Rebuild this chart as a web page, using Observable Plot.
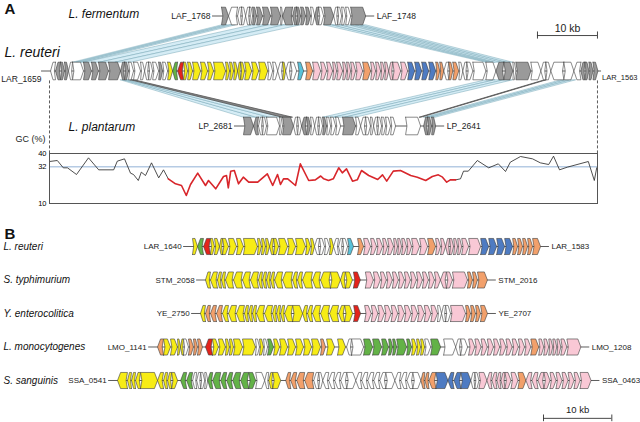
<!DOCTYPE html>
<html><head><meta charset="utf-8">
<script src="https://cdn.jsdelivr.net/npm/d3@7"></script>
<script src="https://cdn.jsdelivr.net/npm/@observablehq/plot@0.6"></script>
<style>
body{margin:0;background:#fff;}
#fig{position:relative;width:640px;height:422px;overflow:hidden;font-family:"Liberation Sans",Arial,Helvetica,sans-serif;}
#fig svg{position:absolute;left:0;}
</style></head><body><div id="fig"></div>
<script>
// ---------- DATA ----------
// gene entries: [length kb, strand (+1/-1, 0 = gap), colour class]
const palette = {k:"#9a9a9a", w:"#ffffff", y:"#f7ec16", g:"#63b247", r:"#e3231b", c:"#59c2da", p:"#f9c8d5", o:"#f2a06b", b:"#4e7bc2"};

// Panel A (kb, 0 = left end of GC window)
const speciesA = ["L. fermentum", "L. reuteri", "L. plantarum"];
const leftTagsA = ["LAF_1768", "LAR_1659", "LP_2681"];
const rightTagsA = ["LAF_1748", "LAR_1563", "LP_2641"];
const startKbA = [28.67, 0.17, 32.33];

const fermentumA = [[1.17,1,"k"],[1.5,-1,"w"],[0.67,-1,"w"],[0.67,1,"w"],[0.67,-1,"w"],[0.5,1,"w"],[0.67,1,"k"],[1.0,1,"k"],[1.33,1,"k"],[1.67,1,"k"],[0.33,1,"w"],[1.67,-1,"k"],[0.67,-1,"k"],[0.67,1,"k"],[0.83,1,"k"],[0.83,1,"k"],[0.67,1,"w"],[0.67,-1,"k"],[0.83,1,"w"],[1.67,1,"k"],[0.67,-1,"w"],[0.67,1,"w"],[0.67,1,"w"],[0.83,1,"w"],[2.5,1,"k"]];

const reuteriA = [[0.83,-1,"w"],[0.83,-1,"k"],[0.67,1,"k"],[0.67,1,"k"],[0.67,-1,"w"],[1.83,1,"w"],[1.33,1,"k"],[1.17,1,"k"],[1.67,1,"k"],[2.0,1,"k"],[0.67,-1,"k"],[0.67,1,"k"],[0.83,1,"w"],[1.17,1,"w"],[0.67,1,"w"],[0.67,-1,"w"],[0.67,1,"w"],[1.0,1,"w"],[0.67,1,"k"],[0.83,1,"w"],[0.83,1,"y"],[0.83,-1,"g"],[1.0,-1,"r"],[0.67,1,"y"],[0.83,1,"y"],[1.33,1,"y"],[1.17,1,"y"],[1.0,1,"y"],[2.0,1,"y"],[0.67,1,"y"],[0.67,1,"y"],[0.67,1,"y"],[0.5,-1,"y"],[0.67,1,"y"],[1.17,1,"y"],[1.17,1,"y"],[1.5,1,"y"],[0.83,1,"w"],[0.83,1,"w"],[0.83,-1,"w"],[0.5,1,"y"],[0.83,-1,"w"],[1.0,1,"w"],[0.17,0,null],[1.0,1,"c"],[0.33,0,null],[1.17,1,"o"],[1.33,1,"p"],[1.0,1,"p"],[1.0,1,"p"],[0.67,1,"p"],[1.0,1,"p"],[0.67,1,"p"],[0.67,1,"p"],[0.83,1,"p"],[1.17,1,"p"],[1.33,1,"o"],[0.83,1,"p"],[0.83,1,"p"],[0.67,1,"p"],[0.67,1,"p"],[0.67,-1,"p"],[1.33,1,"p"],[1.17,1,"p"],[1.17,1,"b"],[1.17,1,"b"],[1.17,1,"b"],[1.17,1,"b"],[0.67,1,"o"],[0.67,1,"o"],[0.83,-1,"w"],[0.67,1,"o"],[1.0,1,"o"],[0.67,1,"w"],[0.67,-1,"w"],[1.0,1,"w"],[2.17,1,"w"],[1.67,1,"w"],[1.33,-1,"k"],[1.5,1,"k"],[0.5,1,"w"],[2.5,1,"k"],[1.67,1,"w"],[0.83,-1,"w"],[0.83,1,"w"],[2.17,-1,"w"],[1.67,1,"w"],[1.17,-1,"w"],[0.67,-1,"k"],[0.67,1,"k"],[0.67,1,"k"],[0.83,1,"k"]];

const plantarumA = [[1.67,1,"k"],[0.83,-1,"k"],[0.67,-1,"w"],[0.67,1,"w"],[2.17,1,"w"],[0.5,1,"w"],[1.83,1,"k"],[0.67,-1,"w"],[0.67,1,"w"],[0.83,-1,"k"],[0.67,1,"k"],[0.67,1,"w"],[0.67,-1,"w"],[0.67,1,"w"],[0.67,1,"k"],[0.67,1,"w"],[0.83,1,"w"],[0.83,1,"w"],[0.33,0,null],[2.17,1,"k"],[0.83,1,"w"],[0.83,-1,"w"],[0.83,1,"w"],[0.5,1,"w"],[0.67,-1,"w"],[0.67,1,"w"],[0.67,1,"w"],[0.83,1,"w"],[0.83,1,"w"],[1.67,0,null],[2.5,1,"w"],[0.5,0,null],[0.67,-1,"k"],[0.67,1,"k"],[0.67,1,"k"]];

// homology links: [upper start, upper end, lower start, lower end] kb
const linksFermReut = [[28.7,31.0,3.8,5.7],[33.8,41.8,5.7,13.5],[45.7,49.8,72.7,74.3],[50.2,52.7,74.3,77.2]];
const linksReutPlan = [[11.8,13.5,32.3,38.8],[72.7,77.2,45.5,51.0],[85.2,87.7,62.3,64.3]];
const darkLinksReutPlan = [[13.5,14.1,38.8,40.5],[82.5,82.8,61.6,61.9]];

// GC content (%) along L. reuteri window: [kb, GC %]
const gcTicks = [10, 32, 40];
const gcGenomeMean = 32;
const gcWindowKb = [0, 91.33];
const gcLeft = [[0,35.2],[1.3,35.8],[2.3,31.4],[3.0,31.4],[4.5,27.4],[6.5,37.4],[8.2,30.2],[10.7,30.2],[11.3,35.4],[12.5,36.8],[13.5,28.2],[14.0,27.4],[14.8,23.8],[15.3,28.8],[16.0,26.8],[17.0,34.4],[18.2,25.4],[19.0,30.2],[19.8,24.8]];
const gcIsland = [[19.8,24.8],[21.0,21.8],[22.0,20.8],[22.8,14.8],[23.5,21.4],[24.7,28.2],[26.0,20.8],[26.5,23.8],[27.7,18.8],[29.0,26.2],[29.5,26.8],[29.8,19.4],[30.2,29.4],[30.8,29.8],[31.5,21.8],[32.3,25.8],[33.2,22.8],[34.7,22.8],[36.3,27.8],[37.2,20.8],[38.0,27.4],[38.5,21.4],[39.0,24.8],[39.7,24.8],[41.0,20.8],[41.8,33.8],[43.2,23.8],[44.3,24.2],[45.2,26.5],[45.7,24.8],[46.5,23.8],[47.3,24.8],[48.2,31.4],[48.8,28.4],[49.5,30.8],[50.5,23.4],[51.3,24.2],[52.0,29.8],[53.2,26.8],[54.7,24.4],[55.5,27.2],[56.2,23.4],[57.3,29.4],[58.5,29.8],[60.2,26.8],[61.3,25.8],[62.7,23.8],[63.8,26.2],[64.8,27.2],[65.5,25.8],[66.2,22.8],[66.8,24.2],[67.7,24.2]];
const gcRight = [[67.7,24.2],[68.5,24.8],[69.0,29.4],[69.8,29.4],[71.3,35.8],[73.2,31.4],[74.8,33.8],[76.0,29.2],[76.8,34.8],[78.5,38.2],[80.5,36.8],[81.8,34.4],[83.2,33.4],[84.0,38.4],[85.0,30.2],[86.3,31.8],[89.8,35.2],[90.8,23.8],[91.2,31.4]];

// Panel B
const speciesB = ["L. reuteri", "S. typhimurium", "Y. enterocolitica", "L. monocytogenes", "S. sanguinis"];
const leftTagsB = ["LAR_1640", "STM_2058", "YE_2750", "LMO_1141", "SSA_0541"];
const rightTagsB = ["LAR_1583", "STM_2016", "YE_2707", "LMO_1208", "SSA_0463"];
const startKbB = [28.11, 30.01, 29.28, 22.99, 17.13];

const reuteriB = [[0.73,1,"y"],[0.88,-1,"g"],[1.02,-1,"r"],[0.59,1,"y"],[0.73,1,"y"],[0.44,-1,"y"],[0.88,1,"y"],[1.17,1,"y"],[1.02,1,"y"],[2.05,1,"y"],[0.59,1,"y"],[0.59,1,"y"],[0.59,1,"y"],[0.59,-1,"y"],[0.73,1,"y"],[1.32,1,"y"],[1.17,1,"y"],[1.46,1,"y"],[0.73,1,"y"],[0.59,1,"y"],[0.73,-1,"w"],[0.73,1,"w"],[0.73,1,"w"],[0.59,1,"y"],[0.73,-1,"w"],[0.59,-1,"w"],[0.73,1,"w"],[0.88,1,"c"],[0.59,0,null],[0.88,1,"o"],[1.02,1,"p"],[0.88,1,"p"],[0.88,1,"p"],[0.73,1,"p"],[0.88,1,"p"],[0.59,1,"p"],[0.59,1,"p"],[0.73,1,"p"],[0.73,1,"p"],[1.17,1,"p"],[1.17,1,"p"],[1.17,1,"o"],[0.73,1,"p"],[0.73,1,"p"],[0.59,-1,"p"],[0.59,1,"p"],[0.59,1,"p"],[0.59,1,"p"],[1.02,1,"p"],[1.76,1,"p"],[1.17,1,"b"],[1.17,1,"b"],[1.17,1,"b"],[1.17,1,"b"],[0.73,1,"o"],[0.73,1,"o"],[0.73,1,"o"],[0.73,1,"o"],[1.17,1,"o"]];

const typhimuriumB = [[0.73,-1,"y"],[1.02,-1,"y"],[0.59,-1,"y"],[0.59,-1,"y"],[1.17,-1,"y"],[1.32,-1,"y"],[1.17,-1,"y"],[1.17,-1,"y"],[0.59,-1,"y"],[0.59,-1,"y"],[0.59,-1,"y"],[0.59,-1,"y"],[1.17,-1,"y"],[1.46,-1,"y"],[0.73,-1,"y"],[0.73,-1,"y"],[1.46,-1,"y"],[1.17,-1,"y"],[1.46,-1,"y"],[1.46,1,"y"],[0.73,-1,"y"],[1.02,1,"y"],[0.15,0,null],[1.02,1,"r"],[0.73,0,null],[1.17,1,"p"],[1.02,1,"p"],[0.88,1,"p"],[0.88,1,"p"],[0.88,1,"p"],[0.88,1,"p"],[0.88,1,"p"],[0.88,1,"p"],[0.88,1,"p"],[0.88,1,"p"],[0.88,1,"p"],[0.88,1,"p"],[0.88,-1,"p"],[0.88,1,"p"],[2.2,1,"p"],[0.73,1,"o"],[0.73,1,"o"],[1.46,1,"o"]];

const enterocoliticaB = [[0.73,-1,"y"],[0.73,-1,"o"],[0.88,-1,"o"],[0.88,-1,"o"],[0.88,-1,"y"],[1.17,-1,"y"],[1.17,-1,"y"],[0.59,-1,"y"],[0.59,-1,"y"],[0.59,-1,"y"],[1.17,-1,"y"],[1.17,-1,"y"],[0.59,-1,"y"],[0.59,-1,"y"],[0.59,-1,"y"],[1.17,-1,"y"],[1.46,1,"y"],[0.73,-1,"y"],[0.73,-1,"y"],[1.17,-1,"y"],[1.32,-1,"y"],[1.32,-1,"y"],[0.88,-1,"y"],[1.17,1,"y"],[0.15,0,null],[1.02,1,"r"],[0.59,0,null],[0.97,1,"p"],[0.97,1,"p"],[0.97,1,"p"],[0.97,1,"p"],[0.97,1,"p"],[0.97,1,"p"],[0.97,1,"p"],[0.97,1,"p"],[0.97,1,"p"],[0.97,1,"p"],[0.97,1,"p"],[0.59,1,"w"],[0.59,-1,"w"],[0.73,1,"w"],[2.2,1,"p"],[0.73,1,"o"],[0.73,1,"o"],[0.73,1,"o"],[1.02,1,"o"]];

const monocytogenesB = [[0.88,-1,"o"],[1.02,1,"y"],[1.02,1,"y"],[0.44,1,"y"],[0.44,-1,"y"],[0.73,1,"w"],[0.73,1,"o"],[0.59,1,"o"],[0.73,1,"o"],[0.44,0,null],[1.02,-1,"r"],[0.88,1,"y"],[1.02,1,"y"],[0.59,1,"y"],[0.59,1,"y"],[1.32,1,"y"],[1.9,1,"y"],[0.59,1,"w"],[0.59,1,"y"],[0.59,1,"w"],[0.88,1,"g"],[0.88,1,"y"],[1.17,1,"y"],[1.17,1,"y"],[1.17,1,"y"],[1.17,1,"y"],[1.32,1,"y"],[0.73,1,"o"],[0.15,0,null],[1.17,1,"y"],[0.44,0,null],[1.17,1,"y"],[0.15,0,null],[0.73,-1,"w"],[1.76,1,"w"],[1.32,1,"g"],[1.32,1,"g"],[1.02,1,"g"],[0.59,1,"g"],[0.59,1,"g"],[1.46,1,"g"],[0.73,1,"g"],[0.73,1,"y"],[0.59,1,"y"],[0.59,1,"y"],[0.88,1,"w"],[1.46,1,"g"],[0.44,0,null],[1.76,1,"w"],[0.73,-1,"w"],[1.02,1,"w"],[0.15,0,null],[0.91,1,"p"],[0.91,1,"p"],[0.91,1,"p"],[0.91,1,"p"],[0.91,1,"p"],[0.91,1,"p"],[0.91,1,"p"],[0.91,1,"p"],[0.91,1,"p"],[0.91,1,"p"],[1.17,1,"o"],[0.73,1,"p"],[0.73,1,"p"],[0.59,1,"p"],[0.59,1,"p"],[0.59,1,"p"],[0.88,1,"p"],[2.05,1,"p"]];

const sanguinisB = [[1.46,-1,"y"],[0.59,-1,"y"],[0.59,-1,"y"],[0.73,-1,"y"],[2.49,1,"y"],[0.88,-1,"y"],[0.59,-1,"y"],[0.59,-1,"y"],[0.88,1,"y"],[0.44,0,null],[0.88,-1,"g"],[0.88,-1,"g"],[0.59,-1,"w"],[0.59,-1,"w"],[0.59,1,"w"],[0.44,1,"w"],[0.73,-1,"g"],[1.17,-1,"g"],[0.88,-1,"g"],[0.88,-1,"g"],[1.17,-1,"g"],[1.17,-1,"g"],[1.02,1,"g"],[1.32,1,"w"],[0.59,-1,"w"],[0.59,-1,"y"],[1.17,1,"y"],[0.73,0,null],[0.73,-1,"o"],[0.88,-1,"o"],[1.17,-1,"o"],[1.32,-1,"o"],[0.73,-1,"w"],[0.59,1,"w"],[0.88,-1,"w"],[0.88,-1,"w"],[0.88,-1,"w"],[0.88,-1,"w"],[1.32,1,"w"],[0.88,-1,"w"],[0.88,-1,"w"],[0.88,-1,"w"],[0.88,-1,"w"],[0.88,-1,"w"],[1.32,1,"w"],[0.88,-1,"w"],[0.88,-1,"w"],[0.88,-1,"w"],[1.17,1,"w"],[0.59,-1,"o"],[0.59,-1,"o"],[1.02,-1,"o"],[1.76,1,"b"],[0.88,-1,"b"],[1.02,-1,"b"],[1.46,1,"b"],[0.59,-1,"w"],[0.59,1,"w"],[1.17,1,"p"],[0.73,-1,"p"],[0.73,-1,"p"],[0.59,-1,"p"],[0.59,-1,"p"],[0.88,1,"p"],[1.02,1,"p"],[1.17,1,"o"],[0.88,-1,"p"],[0.88,-1,"p"],[0.88,-1,"p"],[0.88,1,"p"],[0.88,1,"p"],[0.88,1,"p"],[0.88,1,"p"],[0.88,1,"p"],[0.88,1,"p"],[1.61,1,"p"]];

const scaleBarKb = 10;
const scaleBarLabel = "10 kb";

// ---------- BUILD ----------
const FONT = '"Liberation Sans", Arial, Helvetica, sans-serif';
function layout(genes, start) {
  let pos = start;
  return genes.map(([len, strand, c]) => { const g = {s: pos, e: pos + len, strand, c}; pos += len; return g; });
}
function genePolys(list, y, h, tipMax, key) {
  const rows = [];
  list.forEach((g, i) => {
    if (!g.c) return;
    const len = g.e - g.s, t = Math.min(len * 0.5, tipMax), n = t * 0.45;
    const [a, b, dir] = g.strand > 0 ? [g.s, g.e, 1] : [g.e, g.s, -1];
    const pts = [[a, y + h], [b - dir * t, y + h], [b, y], [b - dir * t, y - h], [a, y - h], [a + dir * n, y], [a, y + h]];
    for (const [x, yy] of pts) rows.push({x, y: yy, z: key + "-" + i, fill: palette[g.c]});
  });
  return rows;
}
function linkPolys(links, yTop, yBot, key, parts) {
  const rows = [];
  links.forEach(([t1, t2, b1, b2], i) => {
    for (let k = 0; k < parts; k++) {
      const f0 = k / parts, f1 = (k + 1) / parts;
      const T1 = t1 + (t2 - t1) * f0, T2 = t1 + (t2 - t1) * f1, B1 = b1 + (b2 - b1) * f0, B2 = b1 + (b2 - b1) * f1;
      const pts = [[T1, yTop], [T2, yTop], [B2, yBot], [B1, yBot], [T1, yTop]];
      for (const [x, y] of pts) rows.push({x, y, z: key + i + "-" + k});
    }
  });
  return rows;
}

// Panel A
const rowA = [1, 0, -1];
const hA = 0.16;
const geneArraysA = [fermentumA, reuteriA, plantarumA];
const tracksA = speciesA.map((name, i) => {
  const genes = layout(geneArraysA[i], startKbA[i]);
  return {name, y: rowA[i], left: leftTagsA[i], right: rightTagsA[i], start: startKbA[i], end: genes[genes.length - 1].e, genes};
});
const geneRowsA = tracksA.flatMap((t, i) => genePolys(t.genes, t.y, hA, 0.5, "A" + i));
const linkRows = [
  ...linkPolys(linksFermReut, 1 - hA, hA, "fr", 3),
  ...linkPolys(linksReutPlan, -hA, -1 + hA, "rp", 3)
];
const darkRows = linkPolys(darkLinksReutPlan, -hA, -1 + hA, "d", 1);
const leadA = 1.5, leadReut = 0.6;
const sideTracks = tracksA.filter(t => t.y !== 0), mainTrack = tracksA.filter(t => t.y === 0);

const plotA = Plot.plot({
  width: 640, height: 153, margin: 0,
  x: {domain: [-8.167, 98.5], axis: null},
  y: {domain: [-1.5, 1.282], axis: null},
  color: {type: "identity"},
  style: {fontFamily: FONT, background: "transparent", overflow: "visible"},
  marks: [
    Plot.line(linkRows, {x: "x", y: "y", z: "z", fill: "#d5ecf5", stroke: "#6b9fae", strokeWidth: 0.45, curve: "linear"}),
    Plot.line(darkRows, {x: "x", y: "y", z: "z", fill: "#888", stroke: "#555", strokeWidth: 0.8, curve: "linear"}),
    Plot.ruleX(gcWindowKb, {y1: -hA - 0.02, y2: -1.5, stroke: "#333", strokeWidth: 0.8, strokeDasharray: "3,2"}),
    Plot.ruleY(sideTracks, {y: "y", x1: d => d.start - leadA, x2: d => d.end + leadA, stroke: "#333", strokeWidth: 0.8}),
    Plot.ruleY(mainTrack, {y: "y", x1: d => d.start - leadA, x2: d => d.end + leadReut, stroke: "#333", strokeWidth: 0.8}),
    Plot.line(geneRowsA, {x: "x", y: "y", z: "z", fill: "fill", stroke: "#3c3c3c", strokeWidth: 0.6, strokeLinejoin: "round", curve: "linear"}),
    Plot.text(sideTracks, {x: d => d.start - leadA, y: "y", text: "left", textAnchor: "end", dx: -2, fontSize: 8.5, fill: "#222"}),
    Plot.text(sideTracks, {x: d => d.end + leadA, y: "y", text: "right", textAnchor: "start", dx: 2, fontSize: 8.5, fill: "#222"}),
    Plot.text(mainTrack, {x: d => d.start - leadA, y: "y", text: "left", textAnchor: "end", dx: 0, dy: 8, fontSize: 8.5, fill: "#222"}),
    Plot.text(mainTrack, {x: d => d.end + leadReut, y: "y", text: "right", textAnchor: "start", dx: 0.5, dy: 7, fontSize: 7.5, fill: "#222"}),
    Plot.text(tracksA.filter(t => t.y === 1), {y: "y", text: "name", frameAnchor: "left", textAnchor: "start", dx: 68, dy: -2, fontSize: 12, fontStyle: "italic", fill: "#111"}),
    Plot.text(tracksA.filter(t => t.y === -1), {y: "y", text: "name", frameAnchor: "left", textAnchor: "start", dx: 68, dy: 1.5, fontSize: 12, fontStyle: "italic", fill: "#111"}),
    Plot.text(mainTrack, {y: "y", text: "name", frameAnchor: "left", textAnchor: "start", dx: 4, dy: -18.5, fontSize: 14, fontStyle: "italic", fill: "#111"}),
    Plot.text(["A"], {frameAnchor: "top-left", textAnchor: "start", lineAnchor: "middle", dx: 4, dy: 9, text: d => d, fontSize: 15, fontWeight: "bold", fill: "#111"}),
    Plot.text(["GC (%)"], {frameAnchor: "bottom-left", textAnchor: "start", dx: 15, dy: -12, text: d => d, fontSize: 9, fill: "#222"}),
    // scale bar
    Plot.ruleY([0.645], {x1: gcWindowKb[1] - scaleBarKb, x2: gcWindowKb[1], stroke: "#333", strokeWidth: 0.9}),
    Plot.ruleX([gcWindowKb[1] - scaleBarKb, gcWindowKb[1]], {y1: 0.58, y2: 0.71, stroke: "#333", strokeWidth: 0.9}),
    Plot.text([scaleBarLabel], {x: gcWindowKb[1] - scaleBarKb / 2, y: 0.77, text: d => d, fontSize: 10.5, fill: "#222"})
  ]
});
plotA.style.top = "0px";

// GC plot
const plotGC = Plot.plot({
  width: 640, height: 58, marginTop: 3, marginBottom: 5, marginLeft: 49, marginRight: 43,
  x: {domain: gcWindowKb, axis: null},
  y: {domain: [10, 40], ticks: gcTicks, tickSize: 0, tickPadding: 3, label: null, tickFormat: d => d},
  style: {fontFamily: FONT, fontSize: "7.5px", background: "transparent", overflow: "visible"},
  marks: [
    Plot.ruleY([gcGenomeMean], {stroke: "#86a8d2", strokeWidth: 0.9}),
    Plot.line(gcLeft, {x: d => d[0], y: d => d[1], stroke: "#222", strokeWidth: 0.8}),
    Plot.line(gcRight, {x: d => d[0], y: d => d[1], stroke: "#222", strokeWidth: 0.8}),
    Plot.line(gcIsland, {x: d => d[0], y: d => d[1], stroke: "#d8262b", strokeWidth: 1.6}),
    Plot.frame({stroke: "#555", strokeWidth: 1})
  ]
});
plotGC.style.top = "150px";

// Panel B
const hB = 0.24;
const geneArraysB = [reuteriB, typhimuriumB, enterocoliticaB, monocytogenesB, sanguinisB];
const tracksB = speciesB.map((name, i) => {
  const genes = layout(geneArraysB[i], startKbB[i]);
  return {name, y: i, left: leftTagsB[i], right: rightTagsB[i], start: startKbB[i], end: genes[genes.length - 1].e, genes};
});
const geneRowsB = tracksB.flatMap((t, i) => genePolys(t.genes, t.y, hB, 0.45, "B" + i));
const leadB = 1.3;
const barStartB = 79.5;

const plotB = Plot.plot({
  width: 640, height: 197, margin: 0,
  x: {domain: [0, 93.7], axis: null},
  y: {domain: [5.254, -0.627], axis: null},
  color: {type: "identity"},
  style: {fontFamily: FONT, background: "transparent", overflow: "visible"},
  marks: [
    Plot.ruleY(tracksB, {y: "y", x1: d => d.start - leadB, x2: d => d.end + leadB, stroke: "#333", strokeWidth: 0.8}),
    Plot.line(geneRowsB, {x: "x", y: "y", z: "z", fill: "fill", stroke: "#3c3c3c", strokeWidth: 0.6, strokeLinejoin: "round", curve: "linear"}),
    Plot.text(tracksB, {x: d => d.start - leadB, y: "y", text: "left", textAnchor: "end", dx: -2, fontSize: 8, fill: "#222"}),
    Plot.text(tracksB, {x: d => d.end + leadB, y: "y", text: "right", textAnchor: "start", dx: 2, fontSize: 8, fill: "#222"}),
    Plot.text(tracksB, {y: "y", text: "name", frameAnchor: "left", textAnchor: "start", dx: 3, fontSize: 10, fontStyle: "italic", fill: "#111"}),
    Plot.text(["B"], {frameAnchor: "top-left", textAnchor: "start", lineAnchor: "middle", dx: 4, dy: 9, text: d => d, fontSize: 15, fontWeight: "bold", fill: "#111"}),
    Plot.ruleY([5.13], {x1: barStartB, x2: barStartB + scaleBarKb, stroke: "#333", strokeWidth: 0.9}),
    Plot.ruleX([barStartB, barStartB + scaleBarKb], {y1: 5.03, y2: 5.23, stroke: "#333", strokeWidth: 0.9}),
    Plot.text([scaleBarLabel], {x: barStartB + scaleBarKb / 2, y: 4.88, text: d => d, fontSize: 9.5, fill: "#222"})
  ]
});
plotB.style.top = "225px";

const fig = document.getElementById("fig");
fig.append(plotA, plotGC, plotB);
</script></body></html>
